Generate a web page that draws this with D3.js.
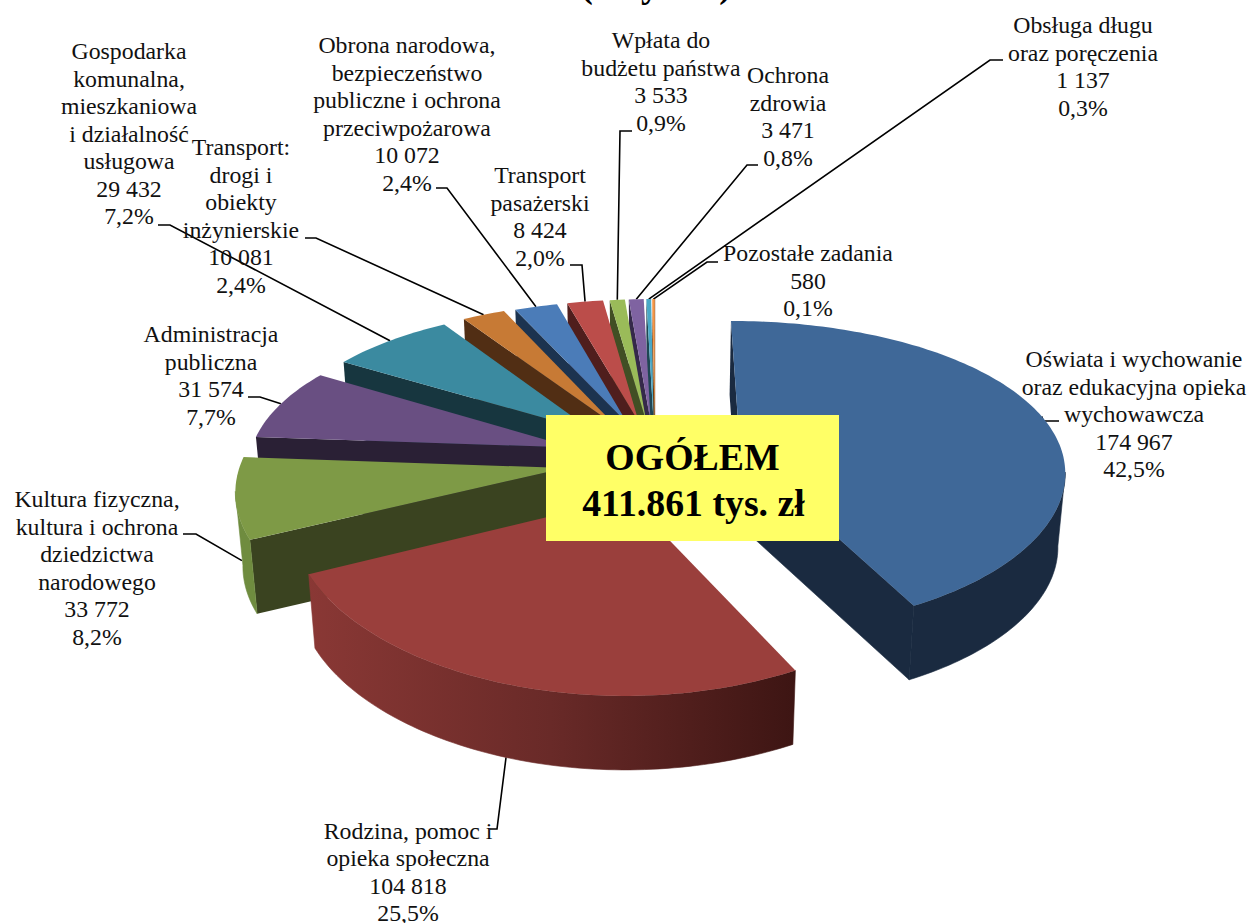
<!DOCTYPE html>
<html>
<head>
<meta charset="utf-8">
<script src="https://cdn.jsdelivr.net/npm/d3@7"></script>
<style>
  html, body { margin: 0; padding: 0; background: #fff; }
  text { font-family: "Liberation Serif", serif; fill: #111; }
</style>
</head>
<body>
<div id="chart"></div>
<script>
const categories = [
    ["Oświata i wychowanie", "oraz edukacyjna opieka", "wychowawcza"],
    ["Rodzina, pomoc i", "opieka społeczna"],
    ["Kultura fizyczna,", "kultura i ochrona", "dziedzictwa", "narodowego"],
    ["Administracja", "publiczna"],
    ["Gospodarka", "komunalna,", "mieszkaniowa", "i działalność", "usługowa"],
    ["Transport:", "drogi i", "obiekty", "inżynierskie"],
    ["Obrona narodowa,", "bezpieczeństwo", "publiczne i ochrona", "przeciwpożarowa"],
    ["Transport", "pasażerski"],
    ["Wpłata do", "budżetu państwa"],
    ["Ochrona", "zdrowia"],
    ["Obsługa długu", "oraz poręczenia"],
    ["Pozostałe zadania"]
];
const values = [174967, 104818, 33772, 31574, 29432, 10081, 10072, 8424, 3533, 3471, 1137, 580];
const percents = ["42,5%", "25,5%", "8,2%", "7,7%", "7,2%", "2,4%", "2,4%", "2,0%", "0,9%", "0,8%", "0,3%", "0,1%"];

// colours per slice: top face, radial wall, outer wall
const topColors = ["#3f6898", "#9a3f3c", "#7e9a46", "#694f82", "#3b8aa0", "#c77a35", "#4b7cb8", "#bb4d4a", "#9abb59", "#7f63a1", "#4aa8c6", "#f79646"];
const wallColors = ["#1a2a40", "#3d1513", "#3a4320", "#2a2035", "#17363f", "#512e14", "#1c334f", "#4f1e1d", "#414f24", "#35294a", "#1f4653", "#6c4018"];
const rimColors = ["#1a2a40", "url(#redWall)", "#6f8c3f", "#2a2035", "#17363f", "#512e14", "#1c334f", "#4f1e1d", "#414f24", "#35294a", "#1f4653", "#6c4018"];

// how far each slice is pulled out
const explodes = [0.272, 0.25, 0.28, 0.27, 0.27, 0.27, 0.265, 0.265, 0.265, 0.265, 0.265, 0.265];

// label layout: centre x and first baseline
const labelPos = [[1134, 367], [408, 838.5], [97, 507], [211, 342], [129, 59], [241, 155], [407, 53], [540, 183], [661, 48], [788, 83], [1083, 33], [808, 261]];
// leader: tick start, tick end, how far down the wall it lands
const leaderElbow = [
    [[1059, 421], [1043, 421], 0],
    [[490, 829], [497, 829], 1],
    [[183, 534], [196, 534], 0.85],
    [[248, 397], [260, 397], 0],
    [[158, 225], [170, 225], 0],
    [[305, 238], [316, 238], 0],
    [[436, 188], [447, 188], 0],
    [[570, 265], [582, 265], 0],
    [[632, 131], [620, 131], 0],
    [[758, 165], [747, 165], 0],
    [[1003, 60], [990, 60], 0],
    [[718, 262], [707, 262], 0]
];

const width = 1252, height = 923;
const cx = 655, cy = 460;
const radiusX = 324, radiusY = 153;
const perspectiveX = 0.12, perspectiveY = 0.16;
const depth = 74, shrink = 0.982;

const svg = d3.select("#chart").append("svg")
    .attr("width", width)
    .attr("height", height);

const defs = svg.append("defs");
const redWall = defs.append("linearGradient")
    .attr("id", "redWall")
    .attr("gradientUnits", "userSpaceOnUse")
    .attr("x1", 306).attr("x2", 796).attr("y1", 0).attr("y2", 0);
redWall.append("stop").attr("offset", "0%").attr("stop-color", "#8a3835");
redWall.append("stop").attr("offset", "50%").attr("stop-color", "#692a28");
redWall.append("stop").attr("offset", "100%").attr("stop-color", "#3d1513");

const xScale = d3.scaleLinear().domain([-1, 1]).range([cx - radiusX, cx + radiusX]);
const yScale = d3.scaleLinear().domain([-1, 1]).range([cy + radiusY, cy - radiusY]);

// pie plane to screen
const project = (u, v) => [
    xScale(u / (1 + perspectiveX * v)),
    yScale(v / (1 + perspectiveY * v))
];
const drop = (p, f = 1) => [
    cx + (p[0] - cx) * (1 - (1 - shrink) * f),
    p[1] + depth * f
];

const pie = d3.pie().sort(null).value(d => d);
const arcs = pie(values);

const line = d3.line().curve(d3.curveLinear);

const slices = arcs.map((a, i) => {
    let mid = (a.startAngle + a.endAngle) / 2;
    let ou = explodes[i] * Math.sin(mid), ov = explodes[i] * Math.cos(mid);
    let point = t => project(ou + Math.sin(t), ov + Math.cos(t));
    let steps = Math.max(3, Math.ceil((a.endAngle - a.startAngle) / 0.02));
    let rim = d3.range(steps + 1).map(s => point(a.startAngle + (a.endAngle - a.startAngle) * s / steps));
    return { i, a, mid, apex: project(ou, ov), rim, point };
});

const cross = (a, b, c) => (b[0] - a[0]) * (c[1] - b[1]) - (b[1] - a[1]) * (c[0] - b[0]);

// leader lines go under the pie, so they stop at the slice edge
const leaders = svg.append("g")
    .attr("fill", "none")
    .attr("stroke", "#000")
    .attr("stroke-width", 1.6);

slices.forEach(s => {
    let [start, corner, f] = leaderElbow[s.i];
    let end = drop(s.point(s.mid), f);
    leaders.append("path").attr("d", line([start, corner, end]));
});

// back to front, the two big front slices last
const order = [11, 10, 9, 8, 7, 6, 5, 4, 3, 2, 0, 1];
const g = svg.append("g");

order.forEach(i => {
    let s = slices[i];
    let first = s.rim[0], last = s.rim[s.rim.length - 1];

    if (cross(s.apex, first, drop(first)) < 0) {
        g.append("path")
            .attr("d", line([s.apex, first, drop(first), drop(s.apex)]) + "Z")
            .attr("fill", wallColors[i]);
    }
    if (cross(s.apex, last, drop(last)) > 0) {
        g.append("path")
            .attr("d", line([s.apex, last, drop(last), drop(s.apex)]) + "Z")
            .attr("fill", wallColors[i])
            .attr("stroke", wallColors[i])
            .attr("stroke-width", 0.6);
    }

    // outer wall, only the part turned to the viewer
    let front = [];
    s.rim.forEach((p, k) => {
        if (k > 0 && p[0] < s.rim[k - 1][0] && Math.cos(s.a.startAngle + (s.a.endAngle - s.a.startAngle) * k / (s.rim.length - 1)) < 0.5) {
            if (!front.length) front.push(s.rim[k - 1]);
            front.push(p);
        }
    });
    if (front.length) {
        g.append("path")
            .attr("d", line(front.concat(front.slice().reverse().map(p => drop(p)))) + "Z")
            .attr("fill", rimColors[i])
            .attr("stroke", rimColors[i])
            .attr("stroke-width", 0.6);
    }

    g.append("path")
        .attr("d", line([s.apex].concat(s.rim)) + "Z")
        .attr("fill", topColors[i]);
});

// labels
const fmt = d3.formatLocale({ decimal: ",", thousands: " ", grouping: [3], currency: ["", ""] }).format(",d");

categories.forEach((lines, i) => {
    let all = lines.concat([fmt(values[i]), percents[i]]);
    let t = svg.append("text")
        .attr("text-anchor", "middle")
        .attr("font-size", 23.8);
    all.forEach((l, k) => {
        t.append("tspan")
            .attr("x", labelPos[i][0])
            .attr("y", labelPos[i][1] + k * 27.5)
            .text(l);
    });
});

// total box
svg.append("rect")
    .attr("x", 546).attr("y", 415)
    .attr("width", 293).attr("height", 126)
    .attr("fill", "#ffff66");

svg.append("text")
    .attr("x", 692.5).attr("y", 470)
    .attr("text-anchor", "middle")
    .attr("font-size", 37.8).attr("font-weight", "bold")
    .style("fill", "#000")
    .text("OGÓŁEM");

svg.append("text")
    .attr("x", 693.5).attr("y", 516)
    .attr("text-anchor", "middle")
    .attr("font-size", 37.8).attr("font-weight", "bold")
    .style("fill", "#000")
    .text("411.861 tys. zł");

// title, cut by the top of the page
svg.append("text")
    .attr("x", 656).attr("y", -3)
    .attr("text-anchor", "middle")
    .attr("font-size", 37).attr("font-weight", "bold")
    .style("fill", "#000")
    .text("(w tys. zł)");
</script>
</body>
</html>
